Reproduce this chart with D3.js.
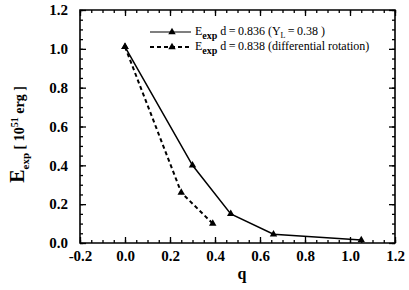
<!DOCTYPE html>
<html lang="en">
<head>
<meta charset="UTF-8">
<title>E_exp vs q</title>
<script src="https://cdn.jsdelivr.net/npm/d3@7"></script>
<style>
    body { margin: 0; background: #fff; }
    svg text { font-family: "Liberation Serif", "DejaVu Serif", serif; fill: #000; }
    .tick text { font-weight: bold; font-size: 15px; }
</style>
</head>
<body>
<div id="chart"></div>
<script>
    // values
    const qSolid = [0.0, 0.30, 0.47, 0.66, 1.05];
    const eSolid = [1.01, 0.40, 0.15, 0.045, 0.015];
    const qDashed = [0.0, 0.25, 0.39];
    const eDashed = [1.01, 0.26, 0.10];
    const xTicks = [-0.2, 0.0, 0.2, 0.4, 0.6, 0.8, 1.0, 1.2];
    const yTicks = [0.0, 0.2, 0.4, 0.6, 0.8, 1.0, 1.2];

    var margin = {top: 10, right: 14, bottom: 47, left: 80},
        width = 409 - margin.left - margin.right,
        height = 290 - margin.top - margin.bottom;

    var svg = d3.select("#chart")
        .append("svg")
        .attr("width", 409)
        .attr("height", 290)
        .append("g")
        .attr("transform", "translate(" + margin.left + "," + margin.top + ")");

    const x = d3.scaleLinear().domain([-0.2, 1.2]).range([0, width]);
    const y = d3.scaleLinear().domain([0, 1.2]).range([height, 0]);

    const minorX = d3.range(-0.2, 1.2001, 0.05);
    const minorY = d3.range(0, 1.2001, 0.05);
    const fmt = d => d3.format(".1f")(d).replace("\u2212", "-");

    function noDomain(g) { g.select(".domain").remove(); g.attr("font-family", null); }

    // bottom axis with labels, inward ticks
    svg.append("g")
        .attr("transform", "translate(0," + height + ")")
        .call(d3.axisBottom(x).tickValues(xTicks).tickSize(-6).tickPadding(7).tickFormat(fmt))
        .call(noDomain);
    svg.append("g")
        .attr("transform", "translate(0," + height + ")")
        .call(d3.axisBottom(x).tickValues(minorX).tickSize(-3).tickFormat(""))
        .call(noDomain);

    // top axis
    svg.append("g")
        .call(d3.axisTop(x).tickValues(xTicks).tickSize(-6).tickFormat(""))
        .call(noDomain);
    svg.append("g")
        .call(d3.axisTop(x).tickValues(minorX).tickSize(-3).tickFormat(""))
        .call(noDomain);

    // left axis
    svg.append("g")
        .call(d3.axisLeft(y).tickValues(yTicks).tickSize(-6).tickPadding(12).tickFormat(fmt))
        .call(noDomain);
    svg.append("g")
        .call(d3.axisLeft(y).tickValues(minorY).tickSize(-3).tickFormat(""))
        .call(noDomain);

    // right axis
    svg.append("g")
        .attr("transform", "translate(" + width + ",0)")
        .call(d3.axisRight(y).tickValues(yTicks).tickSize(-6).tickFormat(""))
        .call(noDomain);
    svg.append("g")
        .attr("transform", "translate(" + width + ",0)")
        .call(d3.axisRight(y).tickValues(minorY).tickSize(-3).tickFormat(""))
        .call(noDomain);

    svg.selectAll(".tick line").attr("stroke", "#000").attr("stroke-width", 1.3);

    // frame
    svg.append("path")
        .attr("d", "M0,0H" + width + "V" + height + "H0Z")
        .attr("fill", "none").attr("stroke", "#000").attr("stroke-width", 1.6);

    // series
    const line = d3.line().x(d => x(d[0])).y(d => y(d[1]));
    const solid = qSolid.map((q, i) => [q, eSolid[i]]);
    const dashed = qDashed.map((q, i) => [q, eDashed[i]]);

    svg.append("path").datum(solid)
        .attr("d", line)
        .attr("fill", "none").attr("stroke", "#000").attr("stroke-width", 1.5);
    svg.append("path").datum(dashed)
        .attr("d", line)
        .attr("fill", "none").attr("stroke", "#000").attr("stroke-width", 2)
        .attr("stroke-dasharray", "4,3");

    const tri = d3.symbol().type(d3.symbolTriangle).size(24);
    svg.selectAll(".mark").data(solid.concat(dashed)).enter()
        .append("path")
        .attr("class", "mark")
        .attr("d", tri)
        .attr("transform", d => "translate(" + x(d[0]) + "," + y(d[1]) + ")")
        .attr("fill", "#000");

    // legend
    const legend = svg.append("g").attr("transform", "translate(70,22)");
    const rows = [
        {dash: null, text: "  d\u2009=\u20090.836  (Y", sub2: "L", tail: "\u2009=\u20090.38 )"},
        {dash: "4,3", text: "  d\u2009=\u20090.838  (differential rotation)"}
    ];
    rows.forEach((r, i) => {
        const g = legend.append("g").attr("transform", "translate(0," + (i * 15) + ")");
        g.append("line").attr("x1", 0).attr("x2", 41).attr("y1", 0).attr("y2", 0)
            .attr("stroke", "#000").attr("stroke-width", i ? 2 : 1.2)
            .attr("stroke-dasharray", r.dash);
        g.append("path").attr("d", tri).attr("transform", "translate(22,0)");
        const t = g.append("text").attr("x", 45).attr("y", 3).style("font-size", "12px");
        t.append("tspan").text("E");
        t.append("tspan").attr("dy", 4).style("font-size", "10px").style("font-weight", "bold").text("exp");
        t.append("tspan").attr("dy", -4).text(r.text);
        if (r.sub2) {
            t.append("tspan").attr("dy", 3).style("font-size", "8px").text(r.sub2);
            t.append("tspan").attr("dy", -3).text(r.tail);
        }
    });

    // axis titles
    svg.append("text")
        .attr("x", 162).attr("y", height + 36)
        .attr("text-anchor", "middle")
        .style("font-size", "16px").style("font-weight", "bold")
        .text("q");

    const yl = svg.append("text")
        .attr("transform", "translate(-56," + (height / 2 + 8) + ") rotate(-90)")
        .attr("text-anchor", "middle")
        .style("font-weight", "bold").style("font-size", "14px");
    yl.append("tspan").style("font-size", "20px").text("E");
    yl.append("tspan").attr("dy", 5).style("font-size", "11px").text("exp");
    yl.append("tspan").attr("dy", -5).text("  [ 10");
    yl.append("tspan").attr("dy", -6).style("font-size", "10px").text("51");
    yl.append("tspan").attr("dy", 6).text(" erg ]");
</script>
</body>
</html>
